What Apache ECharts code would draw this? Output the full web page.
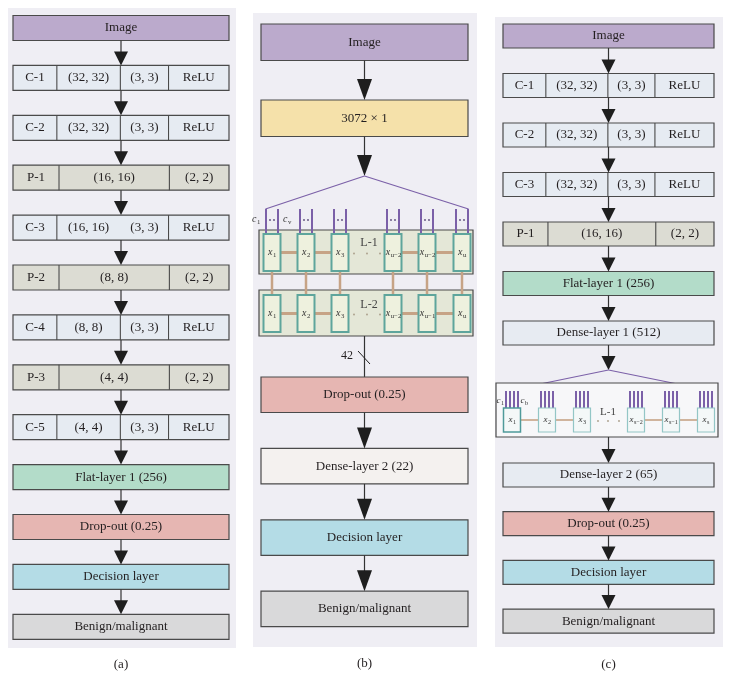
<!DOCTYPE html>
<html>
<head>
<meta charset="utf-8">
<script src="https://cdn.jsdelivr.net/npm/echarts@6/dist/echarts.min.js"></script>
<style>html,body{margin:0;padding:0;background:#fff}#c{width:732px;height:691px}</style>
</head>
<body>
<div id="c"></div>
<script>
// ---------- DATA ----------
const panelLabels = ['(a)', '(b)', '(c)'];
const layersA = [
  ['Image'],
  ['C-1', '(32, 32)', '(3, 3)', 'ReLU'],
  ['C-2', '(32, 32)', '(3, 3)', 'ReLU'],
  ['P-1', '(16, 16)', '(2, 2)'],
  ['C-3', '(16, 16)', '(3, 3)', 'ReLU'],
  ['P-2', '(8, 8)', '(2, 2)'],
  ['C-4', '(8, 8)', '(3, 3)', 'ReLU'],
  ['P-3', '(4, 4)', '(2, 2)'],
  ['C-5', '(4, 4)', '(3, 3)', 'ReLU'],
  ['Flat-layer 1 (256)'],
  ['Drop-out (0.25)'],
  ['Decision layer'],
  ['Benign/malignant']
];
const layersBTop = [['Image'], ['3072 × 1']];
const layersBBottom = [['Drop-out (0.25)'], ['Dense-layer 2 (22)'], ['Decision layer'], ['Benign/malignant']];
const layersCTop = [
  ['Image'],
  ['C-1', '(32, 32)', '(3, 3)', 'ReLU'],
  ['C-2', '(32, 32)', '(3, 3)', 'ReLU'],
  ['C-3', '(32, 32)', '(3, 3)', 'ReLU'],
  ['P-1', '(16, 16)', '(2, 2)'],
  ['Flat-layer 1 (256)'],
  ['Dense-layer 1 (512)']
];
const layersCBottom = [['Dense-layer 2 (65)'], ['Drop-out (0.25)'], ['Decision layer'], ['Benign/malignant']];
const lstmBL1 = [['x', '1'], ['x', '2'], ['x', '3'], ['x', 'u−2'], ['x', 'u−2'], ['x', 'u']];
const lstmBL2 = [['x', '1'], ['x', '2'], ['x', '3'], ['x', 'u−2'], ['x', 'u−1'], ['x', 'u']];
const lstmC = [['x', '1'], ['x', '2'], ['x', '3'], ['x', 's−2'], ['x', 's−1'], ['x', 's']];
const lstmNamesB = ['L-1', 'L-2'];
const lstmNamesC = ['L-1'];
const inputLabelsB = [['c', '1'], ['c', 'v']];
const inputLabelsC = [['c', '1'], ['c', 'b']];
const bOutputSize = '42';

// ---------- STYLE / LAYOUT ----------
const SERIF = '"Liberation Serif", "DejaVu Serif", serif';
const TXT = '#231f20';
const BORDER = '#4a4a4a';
const PURPLE = '#7b60a8';
const TAN = '#c6a386';
function fillFor(label, panel) {
  if (label.startsWith('Image')) return '#bbaacc';
  if (label.startsWith('C-')) return '#e6ebf2';
  if (label.startsWith('P-')) return '#dcdcd3';
  if (label.startsWith('Flat')) return '#b3dcc9';
  if (label.startsWith('Drop')) return '#e6b6b2';
  if (label.startsWith('Decision')) return '#b4dce6';
  if (label.startsWith('Benign')) return '#d9d9da';
  if (label.startsWith('3072')) return '#f5e1aa';
  if (label.startsWith('Dense') && panel === 'b') return '#f4f1ef';
  return '#e7ebf2';
}
const C_DIV = [0.203, 0.497, 0.72];
const P_DIV = [0.213, 0.724];

const chart = echarts.init(document.getElementById('c'), null, { renderer: 'canvas' });

function renderAll(params, api) {
  const ch = [];
  const pt = (x, y) => api.coord([x, y]);
  function rect(x0, y0, x1, y1, fill, stroke, lw) {
    const a = pt(x0, y0), b = pt(x1, y1);
    ch.push({ type: 'rect', shape: { x: Math.min(a[0], b[0]), y: Math.min(a[1], b[1]), width: Math.abs(b[0] - a[0]), height: Math.abs(b[1] - a[1]) },
      style: { fill: fill, stroke: stroke || null, lineWidth: lw || 0 } });
  }
  function line(x0, y0, x1, y1, color, lw) {
    const a = pt(x0, y0), b = pt(x1, y1);
    ch.push({ type: 'line', shape: { x1: a[0], y1: a[1], x2: b[0], y2: b[1] }, style: { stroke: color, lineWidth: lw } });
  }
  function dot(x, y, r, color) {
    const a = pt(x, y);
    ch.push({ type: 'circle', shape: { cx: a[0], cy: a[1], r: r }, style: { fill: color } });
  }
  function text(x, y, str, size, opts) {
    opts = opts || {};
    const a = pt(x, y);
    ch.push({ type: 'text', style: { text: str, x: a[0], y: a[1], fill: opts.color || TXT,
      font: (opts.italic ? 'italic ' : '') + size + 'px ' + SERIF,
      textAlign: opts.align || 'center', textVerticalAlign: 'middle' } });
  }
  function subText(cx, cy, pair, size, color) {
    const subSize = size * 0.68;
    const mainW = size * 0.45;
    const subW = pair[1].length * subSize * 0.5;
    const start = cx - (mainW + subW) / 2;
    text(start, cy, pair[0], size, { italic: true, align: 'left', color: color });
    text(start + mainW + 0.5, cy + size * 0.3, pair[1], subSize, { align: 'left', color: color });
  }
  function arrow(cx, y0, y1, triH, triW) {
    line(cx, y0, cx, y1 - triH + 1, '#333', 1.2);
    const a = pt(cx - triW / 2, y1 - triH), b = pt(cx + triW / 2, y1 - triH), c = pt(cx, y1);
    ch.push({ type: 'polygon', shape: { points: [a, b, c] }, style: { fill: '#1e1e1e' } });
  }
  function layerBox(layer, x0, x1, top, h, size, panel, noMid) {
    const y1 = top + h, cy = top + h / 2;
    const w = x1 - x0;
    rect(x0, top, x1, y1, fillFor(layer[0], panel), BORDER, 1.2);
    if (layer.length === 1) {
      text((x0 + x1) / 2, cy, layer[0], size);
      return;
    }
    const divs = layer.length === 4 ? C_DIV : P_DIV;
    const edges = [x0].concat(divs.map(f => x0 + f * w)).concat([x1]);
    divs.forEach((f, i) => {
      if (noMid && layer.length === 4 && i === 1) return;
      line(x0 + f * w, top, x0 + f * w, y1, BORDER, 1.1);
    });
    layer.forEach((s, i) => text((edges[i] + edges[i + 1]) / 2, cy, s, size));
  }

  // Panel backgrounds
  rect(8, 8, 236, 648, '#efeef4');
  rect(253, 13, 477, 647, '#efeef4');
  rect(495, 17, 723, 647, '#efeef4');

  // ---------- Panel (a) ----------
  {
    const x0 = 13, x1 = 229, cx = (x0 + x1) / 2, top = 15.5, step = 49.9, h = 25;
    layersA.forEach((L, i) => {
      const t = top + i * step;
      layerBox(L, x0, x1, t, h, 13, 'a', L[0] === 'C-3');
      if (i > 0) arrow(cx, t - step + h, t, 14, 14);
    });
    text(cx, 665, panelLabels[0], 13);
  }

  // ---------- Panel (b) ----------
  {
    const x0 = 261, x1 = 468, cx = (x0 + x1) / 2;
    const topTops = [24, 100], hTop = 36.5;
    layersBTop.forEach((L, i) => {
      layerBox(L, x0, x1, topTops[i], hTop, 13, 'b');
      if (i > 0) arrow(cx, topTops[i - 1] + hTop, topTops[i], 21, 15);
    });
    const apexY = 176;
    arrow(cx, topTops[1] + hTop, apexY, 21, 15);
    const cellX = [272, 306, 340, 393, 427, 462];
    const cw = 17;
    // fan
    line(cx, apexY, cellX[0] - 6.5, 209, PURPLE, 1.2);
    line(cx, apexY, cellX[5] + 6.5, 209, PURPLE, 1.2);
    // LSTM boxes
    const boxes = [[230, 274, 234, 271, lstmBL1], [290, 336, 295, 332, lstmBL2]];
    boxes.forEach(bx => rect(259, bx[0], 473, bx[1], '#e4e7d7', BORDER, 1.2));
    // vertical connectors
    cellX.forEach(x => line(x, 271, x, 295, TAN, 2.5));
    boxes.forEach((bx, k) => {
      const my = (bx[2] + bx[3]) / 2;
      [[0, 1], [1, 2], [3, 4], [4, 5]].forEach(p => line(cellX[p[0]] + cw / 2, my, cellX[p[1]] - cw / 2, my, TAN, 3));
      [354, 367, 380].forEach(x => dot(x, my + 1, 0.9, '#a89c88'));
      cellX.forEach((x, i) => {
        rect(x - cw / 2, bx[2], x + cw / 2, bx[3], '#eef1de', '#5ea59c', 2);
        subText(x, my, bx[4][i], 10, '#333');
      });
      text(369, k === 0 ? 243 : 305, lstmNamesB[k], 12, { color: '#444' });
    });
    // purple inputs
    cellX.forEach(x => {
      line(x - 6, 209, x - 6, 233, PURPLE, 2);
      line(x + 6, 209, x + 6, 233, PURPLE, 2);
      dot(x - 2, 220, 0.9, '#5a4a78');
      dot(x + 2, 220, 0.9, '#5a4a78');
    });
    subText(256, 219, inputLabelsB[0], 10, '#333');
    subText(287, 219, inputLabelsB[1], 10, '#333');
    // output
    const botTop = 377, step = 71.4, h = 35.5;
    line(cx, 336, cx, botTop, '#333', 1.2);
    text(347, 356, bOutputSize, 12);
    line(358, 351, 370, 364, '#222', 1);
    layersBBottom.forEach((L, i) => {
      const t = botTop + i * step;
      layerBox(L, x0, x1, t, h, 13, 'b');
      if (i > 0) arrow(cx, t - step + h, t, 21, 15);
    });
    text(cx, 664, panelLabels[1], 13);
  }

  // ---------- Panel (c) ----------
  {
    const x0 = 503, x1 = 714, cx = (x0 + x1) / 2, h = 24;
    const top = 24, step = 49.5;
    layersCTop.forEach((L, i) => {
      const t = top + i * step;
      layerBox(L, x0, x1, t, h, 13, 'c');
      if (i > 0) arrow(cx, t - step + h, t, 14, 14);
    });
    const lastBottom = top + (layersCTop.length - 1) * step + h;
    const apexY = 370;
    arrow(cx, lastBottom, apexY, 14, 14);
    const cellX = [512, 547, 582, 636, 671, 706];
    const cw = 17, cTop = 408, cBot = 432, my = 420;
    line(cx, apexY, cellX[0] - 6, 391, PURPLE, 1.2);
    line(cx, apexY, cellX[5] + 6, 391, PURPLE, 1.2);
    rect(496, 383, 718, 437, '#f7f7f9', BORDER, 1.2);
    [[0, 1], [1, 2], [3, 4], [4, 5]].forEach(p => line(cellX[p[0]] + cw / 2, my, cellX[p[1]] - cw / 2, my, TAN, 1.6));
    [598, 608, 619].forEach(x => dot(x, my + 1, 0.9, '#a89c88'));
    cellX.forEach((x, i) => {
      [-6, -2, 2, 6].forEach(d => line(x + d, 391, x + d, cTop, PURPLE, 2));
      rect(x - cw / 2, cTop, x + cw / 2, cBot, '#f4f8f8', i === 0 ? '#4f9a9a' : '#93c6c6', i === 0 ? 1.5 : 1.2);
      subText(x, my, lstmC[i], 9, '#333');
    });
    text(608, 412, lstmNamesC[0], 11, { color: '#444' });
    subText(500, 401, inputLabelsC[0], 9, '#333');
    subText(524, 401, inputLabelsC[1], 9, '#333');
    const botTop = 463, bstep = 48.7;
    arrow(cx, 437, botTop, 14, 14);
    layersCBottom.forEach((L, i) => {
      const t = botTop + i * bstep;
      layerBox(L, x0, x1, t, h, 13, 'c');
      if (i > 0) arrow(cx, t - bstep + h, t, 14, 14);
    });
    text(cx, 665, panelLabels[2], 13);
  }

  return { type: 'group', children: ch };
}

chart.setOption({
  animation: false,
  backgroundColor: '#ffffff',
  grid: { left: 0, right: 0, top: 0, bottom: 0 },
  xAxis: { type: 'value', min: 0, max: 732, show: false },
  yAxis: { type: 'value', min: 0, max: 691, inverse: true, show: false },
  series: [{
    type: 'custom',
    coordinateSystem: 'cartesian2d',
    clip: false,
    data: [[0, 0]],
    renderItem: renderAll
  }]
});
</script>
</body>
</html>
